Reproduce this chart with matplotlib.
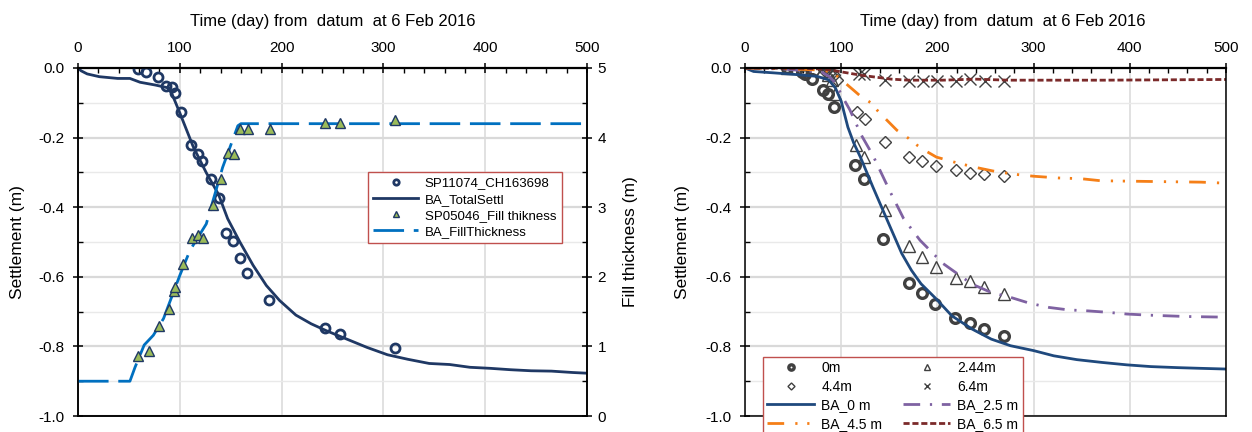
import matplotlib
matplotlib.use('Agg')
import matplotlib.pyplot as plt
from matplotlib.ticker import MultipleLocator, FormatStrFormatter

plt.rcParams['font.family'] = ['Liberation Sans', 'DejaVu Sans']
plt.rcParams['axes.unicode_minus'] = False

# ---- left chart: SP11074 settlement + fill thickness
obs_day = [59, 67, 79, 86, 92, 95, 101, 111, 118, 122, 131, 138, 145, 152, 159, 166, 188, 243, 257, 311]
obs_settl = [-0.004, -0.012, -0.027, -0.052, -0.054, -0.073, -0.127, -0.222, -0.247, -0.268, -0.318,
             -0.374, -0.474, -0.498, -0.546, -0.588, -0.666, -0.748, -0.765, -0.805]

ba_day = [0, 3, 9, 21, 39, 51, 61, 76, 90, 100, 113, 126, 138, 147, 159, 172, 185, 198, 214, 229,
          244, 264, 284, 304, 324, 345, 365, 385, 405, 425, 445, 465, 486, 500]
ba_settl = [0, -0.008, -0.017, -0.025, -0.03, -0.03, -0.041, -0.049, -0.058, -0.129, -0.225, -0.301,
            -0.363, -0.433, -0.5, -0.567, -0.625, -0.668, -0.71, -0.735, -0.755, -0.779, -0.803,
            -0.824, -0.837, -0.849, -0.852, -0.86, -0.863, -0.867, -0.87, -0.871, -0.875, -0.877]

tri_day = [59, 70, 80, 89, 94, 95, 103, 112, 118, 123, 133, 140, 147, 153, 159, 167, 189, 243, 257, 311]
tri_thk = [0.86, 0.93, 1.29, 1.54, 1.79, 1.86, 2.18, 2.56, 2.60, 2.56, 3.03, 3.41, 3.78, 3.77,
           4.13, 4.12, 4.12, 4.21, 4.21, 4.25]

fill_day = [0, 51, 56, 65, 74, 84, 100, 110, 126, 142, 152, 157, 160, 500]
fill_thk = [0.5, 0.5, 0.70, 1.02, 1.16, 1.40, 2.02, 2.38, 2.76, 3.57, 3.97, 4.17, 4.2, 4.2]

# ---- right chart: settlement at depths
d0_day = [44, 59, 62, 70, 81, 86, 93, 114, 124, 144, 171, 184, 198, 218, 234, 249, 269]
d0_val = [0, -0.012, -0.018, -0.033, -0.062, -0.076, -0.113, -0.28, -0.319, -0.491, -0.619, -0.647,
          -0.678, -0.719, -0.733, -0.75, -0.769]
d244_day = [44, 80, 86, 90, 94, 115, 124, 146, 171, 184, 199, 219, 234, 249, 269]
d244_val = [0, -0.01, -0.02, -0.035, -0.075, -0.222, -0.257, -0.407, -0.512, -0.543, -0.572,
            -0.602, -0.613, -0.629, -0.648]
d44_day = [44, 82, 88, 93, 96, 116, 125, 146, 171, 184, 199, 219, 234, 249, 269]
d44_val = [0, -0.006, -0.012, -0.02, -0.035, -0.126, -0.147, -0.212, -0.256, -0.268, -0.282,
           -0.294, -0.303, -0.305, -0.311]
d64_day = [44, 80, 90, 119, 124, 146, 171, 185, 200, 219, 234, 250, 269]
d64_val = [0, -0.004, -0.006, -0.016, -0.016, -0.034, -0.037, -0.037, -0.037, -0.036, -0.033,
           -0.036, -0.036]

ba0_day = [0, 9, 30, 54, 75, 87, 94, 100, 107, 113, 120, 133, 151, 163, 173, 183, 199, 215, 236,
           256, 276, 300, 321, 345, 371, 397, 422, 450, 474, 500]
ba0_val = [0, -0.01, -0.014, -0.019, -0.024, -0.034, -0.057, -0.095, -0.17, -0.215, -0.256,
           -0.342, -0.457, -0.533, -0.581, -0.62, -0.664, -0.712, -0.75, -0.779, -0.798, -0.812,
           -0.827, -0.838, -0.846, -0.853, -0.858, -0.861, -0.863, -0.865]
ba25_day = [0, 40, 80, 88, 94, 102, 109, 121, 133, 151, 165, 182, 206, 236, 256, 276, 296, 316,
            336, 357, 377, 397, 418, 438, 458, 500]
ba25_val = [0, -0.003, -0.012, -0.025, -0.043, -0.086, -0.12, -0.193, -0.251, -0.356, -0.433,
            -0.495, -0.562, -0.621, -0.645, -0.659, -0.676, -0.688, -0.695, -0.698, -0.702,
            -0.707, -0.71, -0.712, -0.714, -0.716]
ba45_day = [0, 40, 80, 90, 96, 105, 121, 131, 138, 149, 158, 170, 179, 189, 199, 217, 237, 258,
            279, 300, 326, 349, 370, 420, 474, 500]
ba45_val = [0, -0.002, -0.006, -0.012, -0.024, -0.045, -0.083, -0.1, -0.123, -0.154, -0.179,
            -0.202, -0.222, -0.24, -0.256, -0.27, -0.284, -0.296, -0.305, -0.311, -0.316,
            -0.318, -0.324, -0.326, -0.328, -0.331]
ba65_day = [0, 60, 80, 90, 100, 121, 152, 170, 205, 239, 274, 372, 500]
ba65_val = [0, -0.001, -0.003, -0.006, -0.011, -0.021, -0.032, -0.035, -0.035, -0.032, -0.035,
            -0.035, -0.033]

navy = '#1f3864'
narrow = ['Liberation Sans Narrow', 'Liberation Sans', 'DejaVu Sans']


def style(ax, title_x):
    ax.set_xlim(0, 500)
    ax.set_ylim(-1, 0)
    ax.xaxis.tick_top()
    ax.xaxis.set_major_locator(MultipleLocator(100))
    ax.xaxis.set_minor_locator(MultipleLocator(20))
    ax.yaxis.set_major_locator(MultipleLocator(0.2))
    ax.yaxis.set_minor_locator(MultipleLocator(0.1))
    ax.yaxis.set_major_formatter(FormatStrFormatter('%.1f'))
    ax.tick_params(which='major', direction='inout', length=7, width=1.1, labelsize=11)
    ax.tick_params(axis='x', which='major', pad=6)
    ax.tick_params(axis='y', which='major', pad=6)
    ax.tick_params(which='minor', direction='in', length=3.5, width=1)
    ax.grid(which='major', axis='x', color='#d9d9d9', lw=1.1)
    ax.grid(which='major', axis='y', color='#d9d9d9', lw=1.6)
    ax.grid(which='minor', axis='y', color='#e9e9e9', lw=1.0)
    ax.set_axisbelow(True)
    for s in ax.spines.values():
        s.set_linewidth(1.1)
    ax.spines['top'].set_linewidth(1.6)
    ax.set_xlabel('Time (day) from  datum  at 6 Feb 2016', fontsize=12)
    ax.xaxis.set_label_position('top')
    ax.xaxis.set_label_coords(title_x, 1.12)
    ax.set_ylabel('Settlement (m)', fontsize=12.5)


fig = plt.figure(figsize=(12.52, 4.32), dpi=100)
ax1 = fig.add_axes([0.0623, 0.037, 0.4066, 0.8056])
ax2 = fig.add_axes([0.595, 0.037, 0.3842, 0.8056])

# left
style(ax1, 0.5)
ax1.yaxis.set_label_coords(-0.104, 0.5)
ax1.plot(obs_day, obs_settl, 'o', ms=6.5, mfc='none', mec=navy, mew=2, label='SP11074_CH163698', zorder=3)
ax1.plot(ba_day, ba_settl, '-', color=navy, lw=2, label='BA_TotalSettl', zorder=2)

ax1t = ax1.twinx()
ax1t.set_ylim(0, 5)
ax1t.yaxis.set_major_locator(MultipleLocator(1))
ax1t.yaxis.set_minor_locator(MultipleLocator(0.5))
ax1t.yaxis.set_major_formatter(FormatStrFormatter('%d'))
ax1t.tick_params(which='major', direction='inout', length=7, width=1.1, labelsize=11, pad=4)
ax1t.tick_params(which='minor', direction='in', length=3.5, width=1)
ax1t.set_ylabel('Fill thickness (m)', fontsize=12.5)
ax1t.yaxis.set_label_coords(1.07, 0.5)
for s in ax1t.spines.values():
    s.set_linewidth(1.1)
ax1t.plot(tri_day, tri_thk, '^', ms=7, mfc='#9bbb59', mec=navy, mew=1, label='SP05046_Fill thikness', zorder=3)
ax1t.plot(fill_day, fill_thk, color='#0070c0', lw=2, dashes=(11, 3.5), label='BA_FillThickness', zorder=2)

h1, l1 = ax1.get_legend_handles_labels()
h2, l2 = ax1t.get_legend_handles_labels()
leg1 = ax1t.legend(h1 + h2, l1 + l2, loc='upper left', bbox_to_anchor=(368 / 1252, 1 - 172 / 432),
                   bbox_transform=fig.transFigure, borderaxespad=0, frameon=True, fancybox=False,
                   framealpha=1, edgecolor='#c0504d', markerscale=0.6, handlelength=3.4,
                   handletextpad=0.5, labelspacing=0.3, borderpad=0.4,
                   prop={'family': narrow, 'size': 9.5})
leg1.get_frame().set_linewidth(1)

# right
style(ax2, 0.537)
ax2.yaxis.set_label_coords(-0.114, 0.5)
grey = '#404040'
p0, = ax2.plot(d0_day, d0_val, 'o', ms=7, mfc='none', mec=grey, mew=2.4, label='0m')
p1, = ax2.plot(d244_day, d244_val, '^', ms=8, mfc='none', mec=grey, mew=1, label='2.44m')
p2, = ax2.plot(d44_day, d44_val, 'D', ms=6.5, mfc='none', mec=grey, mew=1, label='4.4m')
p3, = ax2.plot(d64_day, d64_val, 'x', ms=8, mec=grey, mew=1, label='6.4m')
q0, = ax2.plot(ba0_day, ba0_val, '-', color='#1f497d', lw=2, label='BA_0 m')
q1, = ax2.plot(ba25_day, ba25_val, color='#7f62a2', lw=2, dashes=(6, 3.5, 0.8, 3.5), label='BA_2.5 m')
q2, = ax2.plot(ba45_day, ba45_val, color='#f57f17', lw=2, dashes=(6, 4, 0.8, 3.5, 0.8, 4), label='BA_4.5 m')
q3, = ax2.plot(ba65_day, ba65_val, color='#7b2a2a', lw=2, dashes=(2.2, 1), label='BA_6.5 m')

handles = [p0, p2, q0, q2, p1, p3, q1, q3]
leg2 = ax2.legend(handles, [h.get_label() for h in handles], ncol=2, loc='upper left',
                  bbox_to_anchor=(763 / 1252, 1 - 357 / 432), bbox_transform=fig.transFigure,
                  borderaxespad=0, frameon=True, fancybox=False, framealpha=1, edgecolor='#c0504d',
                  markerscale=0.55, handlelength=3.4, handletextpad=0.5, columnspacing=1.5,
                  labelspacing=0.33, borderpad=0.3, prop={'family': narrow, 'size': 10})
leg2.get_frame().set_linewidth(1)

fig.savefig('out.png', dpi=100)
